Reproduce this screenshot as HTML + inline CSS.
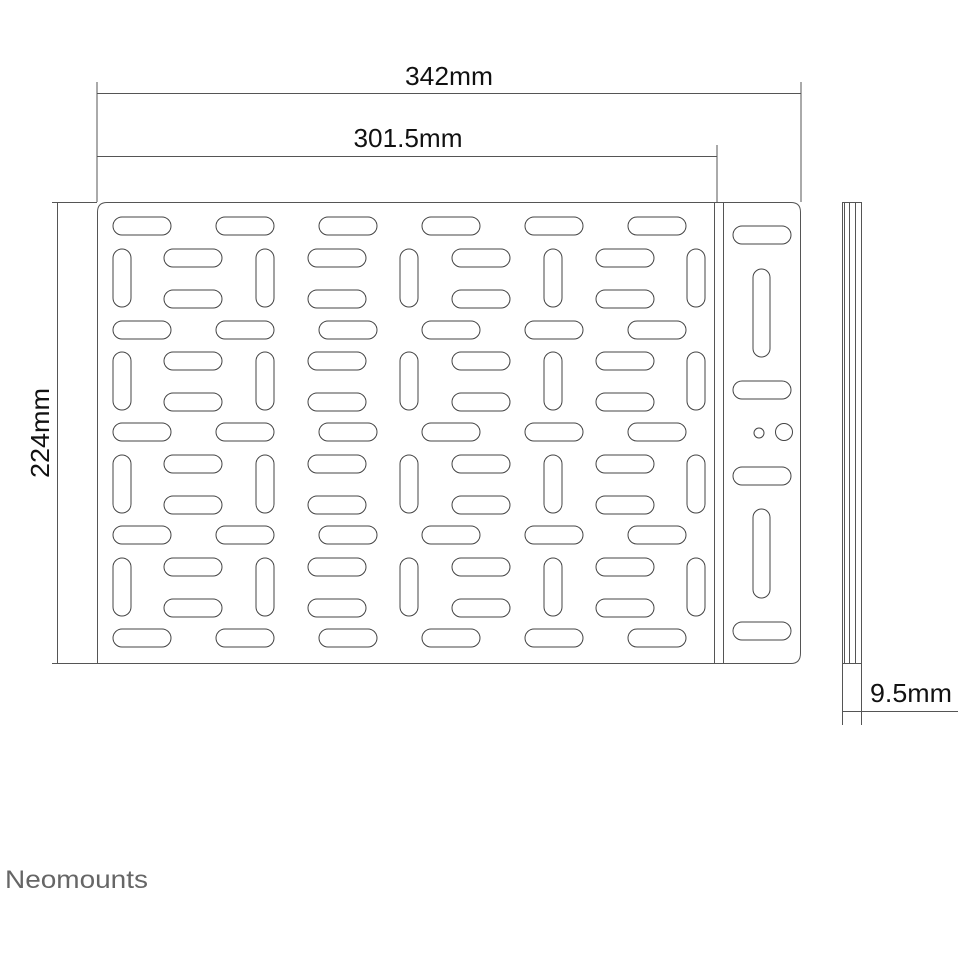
<!DOCTYPE html>
<html><head><style>body{margin:0;background:#fff}svg{display:block}</style></head><body>
<svg width="960" height="960" viewBox="0 0 960 960" xmlns="http://www.w3.org/2000/svg">
<defs>
<rect id="h" width="58" height="18" rx="9" fill="none" stroke="#444" stroke-width="1"/>
<rect id="v" width="18" height="58" rx="9" fill="none" stroke="#444" stroke-width="1"/>
<g id="hrow"><use href="#h" x="113"/><use href="#h" x="216"/><use href="#h" x="319"/><use href="#h" x="422"/><use href="#h" x="525"/><use href="#h" x="628"/></g>
<g id="blk">
<use href="#v" x="113" y="0"/><use href="#v" x="256" y="0"/><use href="#v" x="400" y="0"/><use href="#v" x="544" y="0"/><use href="#v" x="687" y="0"/>
<use href="#h" x="164" y="0"/><use href="#h" x="308" y="0"/><use href="#h" x="452" y="0"/><use href="#h" x="596" y="0"/>
<use href="#h" x="164" y="41"/><use href="#h" x="308" y="41"/><use href="#h" x="452" y="41"/><use href="#h" x="596" y="41"/>
</g>
</defs>
<g stroke="#555" stroke-width="1" fill="none">
<line x1="97" y1="82" x2="97" y2="202"/>
<line x1="801" y1="82" x2="801" y2="202"/>
<line x1="97" y1="93.5" x2="801" y2="93.5"/>
<line x1="717" y1="145" x2="717" y2="202"/>
<line x1="97" y1="156.5" x2="717" y2="156.5"/>
<line x1="57.5" y1="202" x2="57.5" y2="663"/>
<line x1="52" y1="202.5" x2="97" y2="202.5"/>
<line x1="52" y1="663.5" x2="97" y2="663.5"/>
<path d="M97.5 663.5 V212 Q97.5 202.5 107 202.5 H791 Q800.5 202.5 800.5 212 V653 Q800.5 663.5 791 663.5 Z"/>
<line x1="714.5" y1="202" x2="714.5" y2="663"/>
<line x1="723.5" y1="202" x2="723.5" y2="663"/>
<rect x="842.5" y="202.5" width="19" height="461"/>
<line x1="844.5" y1="202" x2="844.5" y2="663"/>
<line x1="849.5" y1="202" x2="849.5" y2="663"/>
<line x1="855.5" y1="202" x2="855.5" y2="663"/>
<line x1="842.5" y1="663" x2="842.5" y2="725"/>
<line x1="861.5" y1="663" x2="861.5" y2="725"/>
<line x1="842" y1="711.5" x2="958" y2="711.5"/>
</g>
<g transform="translate(0,-9)"><use href="#hrow" y="226"/><use href="#hrow" y="330"/><use href="#hrow" y="432"/><use href="#hrow" y="535"/><use href="#hrow" y="638"/></g>
<use href="#blk" y="249"/><use href="#blk" y="352"/><use href="#blk" y="455"/><use href="#blk" y="558"/>
<g fill="none" stroke="#444">
<rect x="733" y="226" width="58" height="18" rx="9"/>
<rect x="753" y="269" width="17" height="88" rx="8.5"/>
<rect x="733" y="381" width="58" height="18" rx="9"/>
<circle cx="759" cy="433" r="5"/>
<circle cx="784" cy="432" r="8.5"/>
<rect x="733" y="467" width="58" height="18" rx="9"/>
<rect x="753" y="509" width="17" height="89" rx="8.5"/>
<rect x="733" y="622" width="58" height="18" rx="9"/>
</g>
<g font-family="Liberation Sans, DejaVu Sans, sans-serif" font-size="26" fill="#111">
<text x="449" y="85" text-anchor="middle" textLength="88" lengthAdjust="spacingAndGlyphs">342mm</text>
<text x="408" y="147" text-anchor="middle" textLength="109" lengthAdjust="spacingAndGlyphs">301.5mm</text>
<text x="911" y="702" text-anchor="middle" textLength="82" lengthAdjust="spacingAndGlyphs">9.5mm</text>
<text transform="translate(49,433) rotate(-90)" text-anchor="middle" textLength="90" lengthAdjust="spacingAndGlyphs">224mm</text>
</g>
<text x="5" y="888" font-family="Liberation Sans, DejaVu Sans, sans-serif" font-size="25" fill="#666" textLength="143" lengthAdjust="spacingAndGlyphs">Neomounts</text>
</svg>
</body></html>
